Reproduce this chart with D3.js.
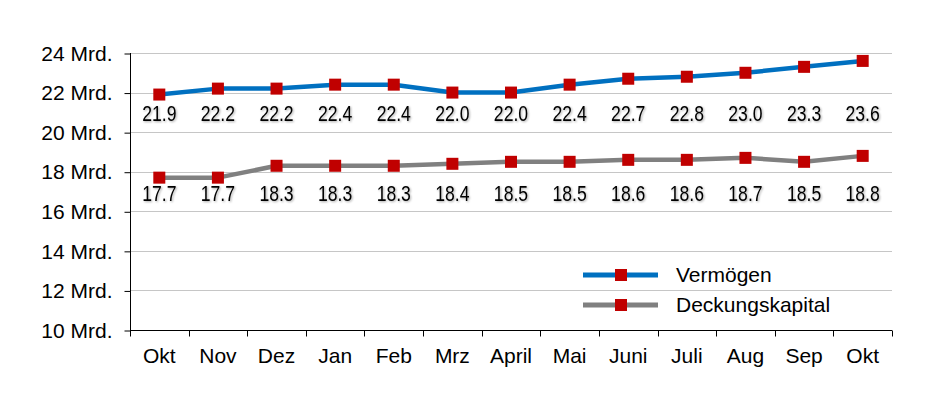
<!DOCTYPE html>
<html><head><meta charset="utf-8">
<script src="https://cdn.jsdelivr.net/npm/d3@7"></script>
<style>
html,body{margin:0;padding:0;background:#fff;}
svg{display:block;font-family:"Liberation Sans",Arial,sans-serif;}
</style></head>
<body><svg id="c" width="943" height="408"></svg>
<script>
const categories = ["Okt","Nov","Dez","Jan","Feb","Mrz","April","Mai","Juni","Juli","Aug","Sep","Okt"];
const vermoegen = [21.9,22.2,22.2,22.4,22.4,22.0,22.0,22.4,22.7,22.8,23.0,23.3,23.6];
const deckungskapital = [17.7,17.7,18.3,18.3,18.3,18.4,18.5,18.5,18.6,18.6,18.7,18.5,18.8];
const yTicks = [10,12,14,16,18,20,22,24];
const seriesNames = ["Vermögen","Deckungskapital"];

(function(){
const svg = d3.select("#c");
const defs = svg.append("defs");
const f = defs.append("filter").attr("id","sh").attr("x","-20%").attr("y","-20%").attr("width","140%").attr("height","140%");
f.append("feDropShadow").attr("dx",1).attr("dy",1).attr("stdDeviation",1.2).attr("flood-color","#000").attr("flood-opacity",0.35);

const FS = 21;
const mL = 130, mR = 892, mT = 53, mB = 330;
const x = d3.scaleBand().domain(d3.range(categories.length)).range([mL,mR]);
const y = d3.scaleLinear().domain([10,24]).range([mB,mT]);

// gridlines
svg.append("g").selectAll("line").data(yTicks.slice(1)).join("line")
  .attr("x1",mL).attr("x2",mR).attr("y1",d=>Math.round(y(d))+0.5).attr("y2",d=>Math.round(y(d))+0.5)
  .attr("stroke","#c6c6c6").attr("stroke-width",1);

// y axis
const yAxis = d3.axisLeft(y).tickValues(yTicks).tickSize(6).tickPadding(12).tickFormat(d=>d+" Mrd.");
const gy = svg.append("g").attr("transform",`translate(${mL+0.5},0.5)`).call(yAxis);
gy.select(".domain").attr("stroke","#000").attr("d",`M0,${y(24)-0.5}V${mB-0.5}`);
gy.selectAll(".tick line").attr("stroke","#000");
gy.selectAll(".tick text").attr("font-size",FS).attr("fill","#000").attr("font-family","Liberation Sans, Arial, sans-serif");

// x axis
const gx = svg.append("g").attr("transform",`translate(0,${mB+0.5})`);
gx.append("line").attr("x1",mL).attr("x2",mR).attr("stroke","#000");
gx.selectAll("line.t").data(d3.range(categories.length+1)).join("line").attr("class","t")
  .attr("x1",i=>Math.round(mL+i*x.step())+0.5).attr("x2",i=>Math.round(mL+i*x.step())+0.5)
  .attr("y1",0).attr("y2",6).attr("stroke","#000");
gx.selectAll("text").data(categories).join("text")
  .attr("x",(d,i)=>x(i)+x.bandwidth()/2).attr("y",32)
  .attr("text-anchor","middle").attr("font-size",FS).attr("fill","#000").text(d=>d);

const cx = i => x(i)+x.bandwidth()/2;
const line = d3.line().x((d,i)=>cx(i)).y(d=>y(d)).curve(d3.curveLinear);

function drawSeries(vals,color,labelRow){
  svg.append("path").datum(vals).attr("d",line).attr("fill","none")
    .attr("stroke",color).attr("stroke-width",4.5).attr("stroke-linejoin","round");
  svg.append("g").selectAll("rect").data(vals).join("rect")
    .attr("x",(d,i)=>cx(i)-6).attr("y",d=>y(d)-6).attr("width",12).attr("height",12).attr("fill","#C00000");
  svg.append("g").attr("filter","url(#sh)").selectAll("text").data(vals).join("text")
    .attr("x",(d,i)=>cx(i)).attr("y",y(labelRow)).attr("dy","0.35em")
    .attr("text-anchor","middle").attr("font-size",22).attr("fill","#000")
    .attr("transform",(d,i)=>`translate(${cx(i)},0) scale(0.8,1) translate(${-cx(i)},0)`)
    .text(d=>d.toFixed(1));
}
drawSeries(vermoegen,"#0070C0",20.95);
drawSeries(deckungskapital,"#808080",16.9);

// legend
const colors = ["#0070C0","#808080"];
const lg = svg.append("g");
seriesNames.forEach((n,k)=>{
  const ly = 275 + k*30;
  lg.append("line").attr("x1",583).attr("x2",658).attr("y1",ly).attr("y2",ly).attr("stroke",colors[k]).attr("stroke-width",5);
  lg.append("rect").attr("x",615).attr("y",ly-6).attr("width",12).attr("height",12).attr("fill","#C00000");
  lg.append("text").attr("x",676).attr("y",ly).attr("dy","0.35em").attr("font-size",FS).attr("fill","#000").text(n);
});
})();
</script></body></html>
